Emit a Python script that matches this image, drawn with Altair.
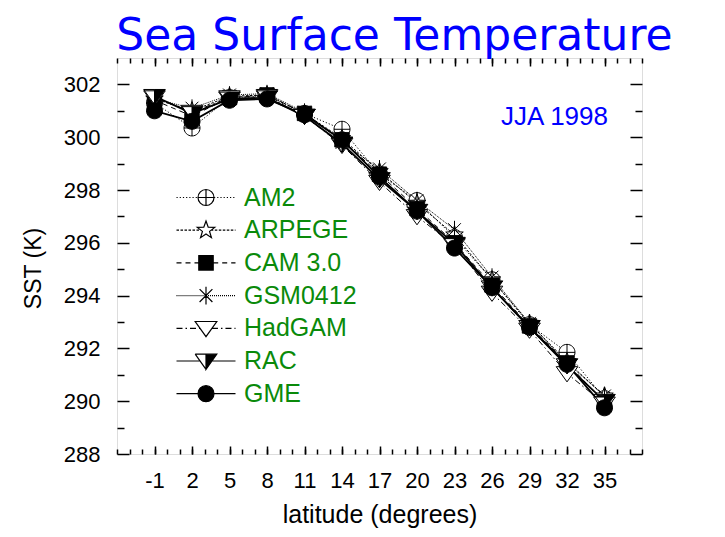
import math
import altair as alt
import pandas as pd

# ---------------- data ----------------
lats = [-1, 2, 5, 8, 11, 14, 17, 20, 23, 26, 29, 32, 35]
models = ["AM2", "ARPEGE", "CAM 3.0", "GSM0412", "HadGAM", "RAC", "GME"]
sst_am2 = [301.3, 300.35, 301.5, 301.55, 300.9, 300.3, 298.6, 297.6, 296.2, 294.6, 292.9, 291.85, 290.1]
sst_arpege = [301.45, 301.0, 301.55, 301.6, 300.9, 299.95, 298.7, 297.5, 296.3, 294.6, 292.95, 291.5, 290.2]
sst_cam = [301.4, 300.8, 301.5, 301.6, 300.9, 299.9, 298.6, 297.3, 296.0, 294.4, 292.85, 291.45, 289.95]
sst_gsm = [301.45, 301.1, 301.6, 301.65, 300.95, 299.8, 298.8, 297.6, 296.5, 294.7, 292.95, 291.45, 290.2]
sst_hadgam = [301.5, 300.95, 301.5, 301.55, 300.8, 299.7, 298.3, 297.0, 295.9, 294.1, 292.7, 291.05, 289.9]
sst_rac = [301.55, 300.9, 301.45, 301.5, 300.8, 299.75, 298.4, 297.2, 295.95, 294.3, 292.8, 291.35, 290.0]
sst_gme = [301.0, 300.6, 301.4, 301.45, 300.85, 299.9, 298.5, 297.2, 295.8, 294.3, 292.8, 291.4, 289.75]
series = [sst_am2, sst_arpege, sst_cam, sst_gsm, sst_hadgam, sst_rac, sst_gme]

x_major = [-1, 2, 5, 8, 11, 14, 17, 20, 23, 26, 29, 32, 35]
x_minor = list(range(-4, 39))
y_major = [288, 290, 292, 294, 296, 298, 300, 302]
y_minor = [289, 291, 293, 295, 297, 299, 301]

note_text = ["JJA 1998"]
note_lat = [31.0]
note_sst = [300.75]

# ---------------- styles ----------------
FONT = "Liberation Sans"
GREEN = "#0a8a0a"
BLUE = "#0000ff"
W, H = 525, 396
dashes = [[1.2, 2], [2.5, 1.5], [5, 4], [1, 1], [6, 3, 1.5, 3], [1, 0], [1, 0]]
fills = ["white", "white", "black", "white", "white", "black", "black"]
strokes = ["black"] * 7

U = 8.0  # px per symbol unit (size 256 -> 16px box)


def circle(r=1.0):
    return f"M{-r},0A{r},{r},0,1,1,{r},0A{r},{r},0,1,1,{-r},0Z"


def star(ro=1.15, ri=0.47):
    pts = []
    for k in range(10):
        r = ro if k % 2 == 0 else ri
        a = -math.pi / 2 + k * math.pi / 5
        pts.append(f"{r*math.cos(a):.3f},{r*math.sin(a):.3f}")
    return "M" + "L".join(pts) + "Z"


tri_top, tri_bot, tri_hw = -0.85, 1.05, 1.35
markers = [
    circle() + "M-1,0L1,0M0,-1L0,1",
    star(),
    "M-0.9,-0.9L0.9,-0.9L0.9,0.9L-0.9,0.9Z",
    "M0,-1.1L0,1.1M-0.8,-0.8L0.8,0.8M-0.8,0.8L0.8,-0.8",
    f"M{-tri_hw},{tri_top}L{tri_hw},{tri_top}L0,{tri_bot}Z",
    f"M0,{tri_top}L{tri_hw},{tri_top}L0,{tri_bot}Z"
    f"M{-tri_hw},{tri_top}L0,{tri_top}M{-tri_hw},{tri_top}L0,{tri_bot}",
    circle(),
]
tri_edge = tri_hw * tri_bot / (tri_bot - tri_top)
edges = [1.0, 0.6, 0.9, 0.0, tri_edge, tri_edge, 1.0]
half_len = 29.5 / U


def seg_path(x0, x1, pattern):
    out = []
    x = x0
    i = 0
    while x < x1 - 1e-6:
        L = pattern[i % len(pattern)] / U
        if i % 2 == 0 and L > 0:
            out.append(f"M{x:.3f},0L{min(x + L, x1):.3f},0")
        x += L if L > 0 else (x1 - x0)
        i += 1
    return "".join(out)


legend_paths = []
for m, e, d in zip(markers, edges, dashes):
    if d[1] == 0:
        line = f"M{-half_len:.3f},0L{-e:.3f},0M{e:.3f},0L{half_len:.3f},0"
    else:
        line = seg_path(-half_len, -e, d) + seg_path(e, half_len, d)
    legend_paths.append(line + m)

# ---------------- table ----------------
rows = []
for name, vals in zip(models, series):
    for la, v in zip(lats, vals):
        rows.append({"lat": la, "sst": v, "model": name})
df = pd.DataFrame(rows)
notes = pd.DataFrame({"lat": note_lat, "sst": note_sst, "text": note_text})

xs = alt.Scale(domain=[-4, 38], nice=False, zero=False)
ys = alt.Scale(domain=[288, 303], nice=False, zero=False)


def tick_axis(orient, values, size, offset):
    return alt.Axis(orient=orient, values=values, tickSize=size, offset=offset,
                    labels=False, domain=False, grid=False, title=None,
                    tickColor="black", tickWidth=1.5)


ax_x_labels = alt.Axis(orient="bottom", values=x_major, ticks=False, tickSize=0,
                       domain=False, grid=False, labelExpr="'' + datum.value",
                       labelFont=FONT, labelFontSize=22, labelColor="black",
                       labelPadding=16, labelFlush=False, labelOverlap=False,
                       title="latitude (degrees)", titleFont=FONT, titleFontSize=25,
                       titleFontWeight="normal", titleColor="black",
                       titleY=60, titleBaseline="middle")
ax_y_labels = alt.Axis(orient="left", values=y_major, ticks=False, tickSize=0,
                       domain=False, grid=False, labelExpr="'' + datum.value",
                       labelFont=FONT, labelFontSize=22, labelColor="black",
                       labelPadding=17, labelFlush=False, labelOverlap=False,
                       title="SST (K)", titleFont=FONT, titleFontSize=23,
                       titleFontWeight="normal", titleColor="black",
                       titleAngle=270, titleX=-84, titleY=210,
                       titleAlign="center", titleBaseline="middle")

dash_scale = alt.Scale(domain=models, range=dashes)

lines_thin = alt.Chart(df).transform_filter(
    "indexof(['RAC','GME'], datum.model) < 0"
).mark_line(color="black", strokeWidth=1).encode(
    x=alt.X("lat:Q", scale=xs, axis=ax_x_labels),
    y=alt.Y("sst:Q", scale=ys, axis=ax_y_labels),
    strokeDash=alt.StrokeDash("model:N", scale=dash_scale, legend=None),
    detail="model:N",
)

lines_solid = alt.Chart(df).transform_filter(
    "indexof(['RAC','GME'], datum.model) >= 0"
).mark_line(color="black", strokeWidth=1.8).encode(
    x=alt.X("lat:Q", scale=xs, axis=tick_axis("top", x_major, 8, -H)),
    y=alt.Y("sst:Q", scale=ys, axis=tick_axis("right", y_major, 12, -W)),
    detail="model:N",
)

points = alt.Chart(df).mark_point(
    filled=True, size=256, stroke="black", strokeWidth=1, opacity=1
).encode(
    x=alt.X("lat:Q", scale=xs, axis=tick_axis("top", x_minor, 5, -H)),
    y=alt.Y("sst:Q", scale=ys, axis=tick_axis("right", y_minor, 7, -W)),
    shape=alt.Shape("model:N", scale=alt.Scale(domain=models, range=markers), legend=None),
    fill=alt.Fill("model:N", scale=alt.Scale(domain=models, range=fills), legend=None),
)

leg = dict(orient="none", legendX=76.5, legendY=127, title=None, padding=0,
           symbolSize=256, symbolOffset=0, symbolStrokeWidth=1.2,
           symbolStrokeColor="black", labelFont=FONT, labelFontSize=25,
           labelColor=GREEN, labelOffset=25.5, rowPadding=6.7, labelLimit=0)

legend_layer = alt.Chart(df).transform_filter("false").mark_point(
    filled=True, size=256, stroke="black", strokeWidth=1.2, opacity=1
).encode(
    x=alt.X("lat:Q", scale=xs, axis=tick_axis("bottom", x_major, 8, -H)),
    y=alt.Y("sst:Q", scale=ys, axis=tick_axis("left", y_major, 12, -W)),
    shape=alt.Shape("model:N", scale=alt.Scale(domain=models, range=legend_paths),
                    legend=alt.Legend(**leg)),
    fill=alt.Fill("model:N", scale=alt.Scale(domain=models, range=fills),
                  legend=alt.Legend(**leg)),
    stroke=alt.Stroke("model:N", scale=alt.Scale(domain=models, range=strokes),
                      legend=alt.Legend(**leg)),
)

note_layer = alt.Chart(notes).mark_text(
    font=FONT, fontSize=26, color=BLUE, align="center", baseline="middle"
).encode(
    x=alt.X("lat:Q", scale=xs, axis=tick_axis("bottom", x_minor, 5, -H)),
    y=alt.Y("sst:Q", scale=ys, axis=tick_axis("left", y_minor, 7, -W)),
    text="text:N",
)

chart = alt.layer(lines_thin, lines_solid, points, legend_layer, note_layer).resolve_scale(
    x="independent", y="independent", shape="independent", fill="independent",
    stroke="independent", strokeDash="independent",
).properties(
    width=W, height=H,
    autosize=alt.AutoSizeParams(type="none"),
    padding={"left": 109, "top": 50, "right": 75, "bottom": 75},
    title=alt.TitleParams("Sea Surface Temperature", font="DejaVu Sans", fontSize=44,
                          fontWeight="normal", color=BLUE, anchor="middle", dx=15,
                          dy=2.5, offset=1),
).configure_view(stroke="black", strokeWidth=1.5).configure(background="white")

chart.save("out.html", embed_options={"renderer": "svg", "actions": False})
